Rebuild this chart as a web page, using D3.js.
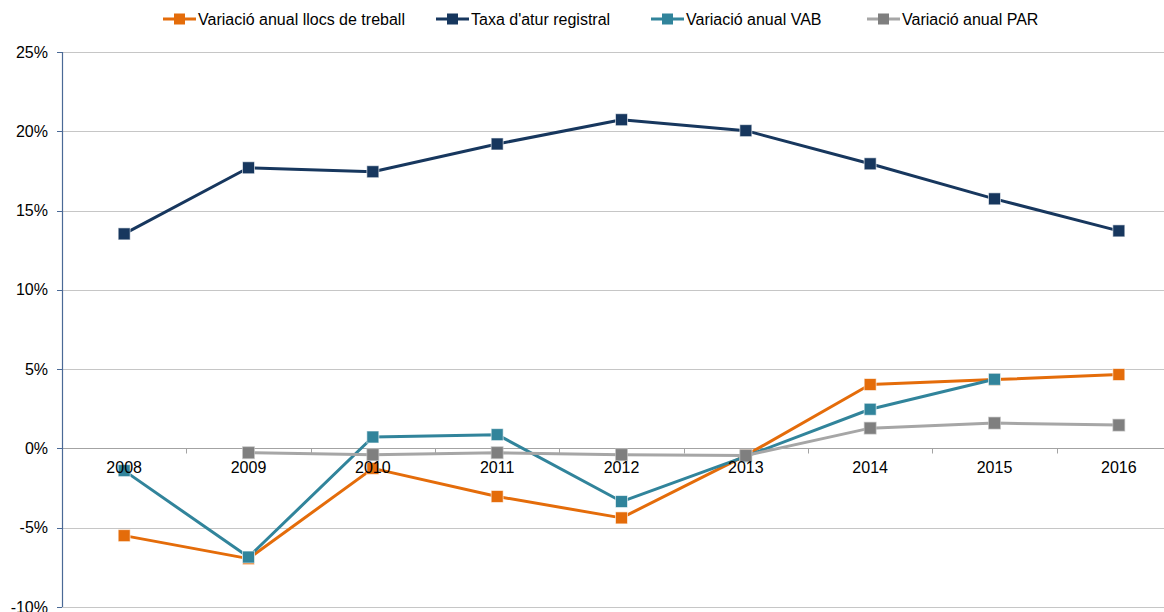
<!DOCTYPE html>
<html>
<head>
<meta charset="utf-8">
<script src="https://cdn.jsdelivr.net/npm/d3@7"></script>
<style>
  body { margin: 0; background: #fff; }
  svg { display: block; font-family: "Liberation Sans", Arial, sans-serif; }
  .grid line { stroke: #c6c6c6; stroke-width: 1; }
  .ylab, .xlab { font-size: 16px; fill: #000; }
  .leg { font-size: 16px; fill: #000; }
</style>
</head>
<body>
<div class="chart"></div>
<script>
// data
var years = ["2008", "2009", "2010", "2011", "2012", "2013", "2014", "2015", "2016"];
var seriesNames = ["Variació anual llocs de treball", "Taxa d'atur registral", "Variació anual VAB", "Variació anual PAR"];
var llocsTreball = [-5.5, -6.95, -1.26, -3.03, -4.38, -0.44, 4.03, 4.34, 4.66];
var taxaAtur = [13.53, 17.7, 17.45, 19.2, 20.73, 20.04, 17.95, 15.74, 13.72];
var vab = [-1.4, -6.85, 0.72, 0.87, -3.35, -0.5, 2.47, 4.36, null];
var par = [null, -0.27, -0.4, -0.27, -0.4, -0.45, 1.28, 1.6, 1.47];
var yTicks = [-10, -5, 0, 5, 10, 15, 20, 25];

var lineColors = ["#E46C0A", "#17375E", "#31849B", "#A6A6A6"];
var markColors = ["#E46C0A", "#17375E", "#31849B", "#7F7F7F"];

var W = 1164, H = 612;
var margin = {top: 52, left: 62},
    width = 1119, // plot runs past the right edge of the picture
    height = 555;

var svg = d3.select(".chart").append("svg")
    .attr("width", W)
    .attr("height", H);

var g = svg.append("g")
    .attr("transform", "translate(" + margin.left + "," + margin.top + ")");

// scales
var x = d3.scaleBand().domain(years).range([0, width]);
var y = d3.scaleLinear().domain([-10, 25]).range([height, 0]);

// gridlines
g.append("g").attr("class", "grid")
  .selectAll("line")
  .data(yTicks.filter(function(d){ return d !== 0; }))
  .enter().append("line")
    .attr("x1", 0).attr("x2", width)
    .attr("y1", function(d){ return Math.round(y(d)) + 0.5; })
    .attr("y2", function(d){ return Math.round(y(d)) + 0.5; });

// x axis at 0 with category boundary ticks
var y0 = Math.round(y(0)) + 0.5;
g.append("line")
    .attr("x1", 0).attr("x2", width)
    .attr("y1", y0).attr("y2", y0)
    .attr("stroke", "#a3a3a3").attr("stroke-width", 1);
g.append("g").selectAll("line")
  .data(years.slice(1))
  .enter().append("line")
    .attr("x1", function(d){ return Math.round(x(d)) + 0.5; })
    .attr("x2", function(d){ return Math.round(x(d)) + 0.5; })
    .attr("y1", y0).attr("y2", y0 + 5)
    .attr("stroke", "#a3a3a3");

// y axis
g.append("line")
    .attr("x1", 0.5).attr("x2", 0.5)
    .attr("y1", 0).attr("y2", height)
    .attr("stroke", "#4a6996").attr("stroke-width", 1.2);
g.append("g").selectAll("line")
  .data(yTicks)
  .enter().append("line")
    .attr("x1", -5).attr("x2", 0)
    .attr("y1", function(d){ return Math.round(y(d)) + 0.5; })
    .attr("y2", function(d){ return Math.round(y(d)) + 0.5; })
    .attr("stroke", "#4a6996");
g.append("g").selectAll("text")
  .data(yTicks)
  .enter().append("text")
    .attr("class", "ylab")
    .attr("x", -14)
    .attr("y", function(d){ return y(d); })
    .attr("dy", "0.35em")
    .attr("text-anchor", "end")
    .text(function(d){ return d + "%"; });

// series
var allSeries = [llocsTreball, taxaAtur, vab, par];
var cx = function(i){ return x(years[i]) + x.bandwidth() / 2; };

var line = d3.line()
    .defined(function(d){ return d != null; })
    .x(function(d, i){ return cx(i); })
    .y(function(d){ return y(d); });

allSeries.forEach(function(vals, s) {
  var sg = g.append("g");
  sg.append("path")
    .attr("d", line(vals))
    .attr("fill", "none")
    .attr("stroke", lineColors[s])
    .attr("stroke-width", 3)
    .attr("stroke-linejoin", "round");
  sg.selectAll("rect")
    .data(vals.map(function(v, i){ return {v: v, i: i}; }).filter(function(d){ return d.v != null; }))
    .enter().append("rect")
      .attr("x", function(d){ return cx(d.i) - 6; })
      .attr("y", function(d){ return y(d.v) - 6; })
      .attr("width", 12).attr("height", 12)
      .attr("fill", markColors[s])
      .attr("stroke", s === 3 ? "#c8c8c8" : "#ffffff")
      .attr("stroke-opacity", 0.6)
      .attr("stroke-width", 1);
});

// x labels on top
g.append("g").selectAll("text")
  .data(years)
  .enter().append("text")
    .attr("class", "xlab")
    .attr("x", function(d){ return x(d) + x.bandwidth() / 2; })
    .attr("y", y(0) + 25)
    .attr("text-anchor", "middle")
    .text(function(d){ return d; });

// legend
var legX = [163, 436, 651, 867];
var legend = svg.append("g");
seriesNames.forEach(function(name, s) {
  var lg = legend.append("g").attr("transform", "translate(" + legX[s] + ",19)");
  lg.append("line")
    .attr("x1", 0).attr("x2", 33)
    .attr("stroke", lineColors[s]).attr("stroke-width", 3);
  lg.append("rect")
    .attr("x", 11).attr("y", -5.5)
    .attr("width", 11).attr("height", 11)
    .attr("fill", markColors[s]);
  lg.append("text")
    .attr("class", "leg")
    .attr("x", 35).attr("dy", "0.35em")
    .text(name);
});
</script>
</body>
</html>
